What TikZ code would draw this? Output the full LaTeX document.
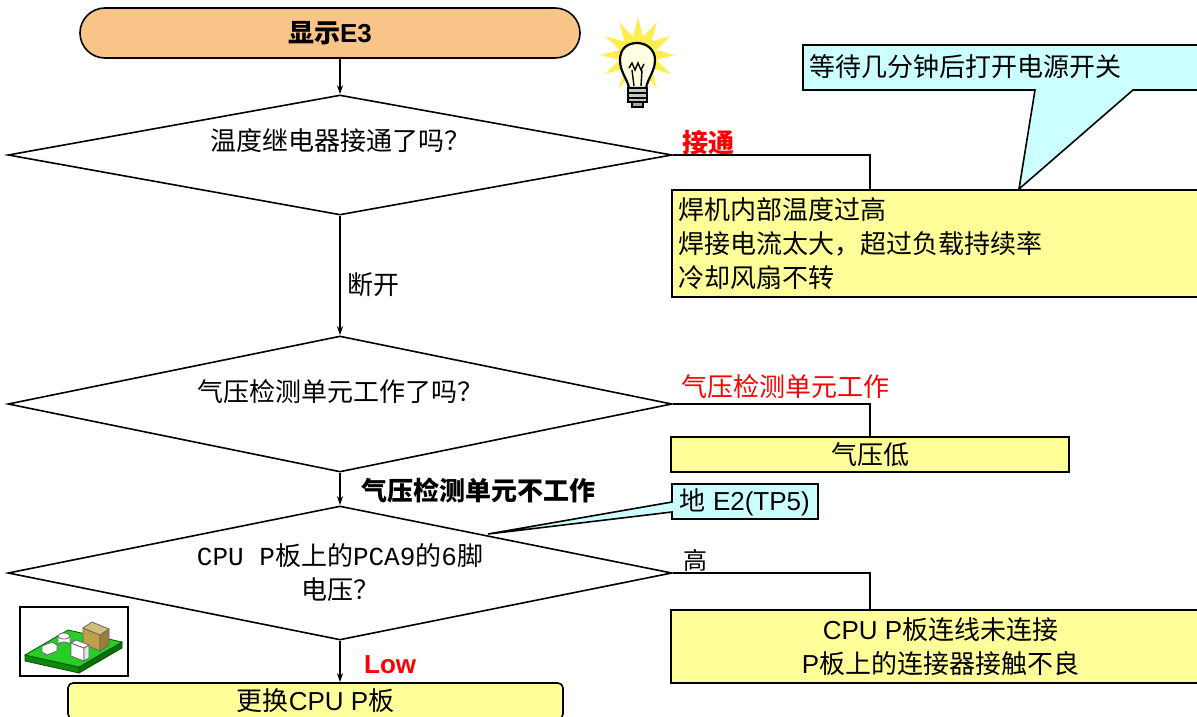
\documentclass[tikz,border=0pt]{standalone}
\usepackage{fontspec}
\setmainfont{Liberation Sans}
\newfontfamily\cjk{Noto Sans CJK SC}
\newfontfamily\mono{Liberation Mono}
\usetikzlibrary{shapes.geometric,arrows.meta,calc}
\definecolor{termfill}{RGB}{249,196,135}
\definecolor{notefill}{RGB}{255,255,153}
\definecolor{tipfill}{RGB}{204,255,255}
\definecolor{burst}{RGB}{255,238,80}
\definecolor{pcbtop}{RGB}{40,205,40}
\definecolor{pcbside}{RGB}{10,140,10}
\definecolor{partbrown}{RGB}{190,160,70}
\definecolor{glass}{RGB}{255,255,225}
\tikzset{
  terminal/.style={draw, fill=termfill, rounded corners=25pt, minimum width=500pt,
    minimum height=50pt, inner sep=0pt, font=\fontsize{26}{30}\selectfont\bfseries},
  decision/.style={draw, diamond, inner sep=0pt, align=center, minimum width=664pt},
  notebox/.style={draw, fill=notefill, inner sep=0pt},
  tipbox/.style={draw, fill=tipfill},
  flow/.style={-{Stealth[length=9pt,width=6pt]}},
  redlbl/.style={text=red, inner sep=0pt},
}
\begin{document}
\begin{tikzpicture}[x=1pt, y=-1pt, line width=1.6pt,
  font=\fontsize{26}{34}\selectfont]
\clip (0,0) rectangle (1197,717);
\fill[white] (0,0) rectangle (1197,717);

% ---- main column ----
\node[terminal] (s) at (330,33) {{\cjk 显示}E3};

\node[decision, aspect=5.533, minimum height=120pt] (d1) at (340,155)
  {\raisebox{30pt}{\cjk 温度继电器接通了吗？}};
\node[decision, aspect=4.882, minimum height=136pt] (d2) at (340,404)
  {\raisebox{28pt}{\cjk 气压检测单元工作了吗？}};
\node[decision, aspect=4.955, minimum height=134pt] (d3) at (340,573)
  {{\mono CPU P}{\cjk 板上的}{\mono PCA9}{\cjk 的}{\mono 6}{\cjk 脚}\\{\cjk 电压？}};

\node[notebox, rounded corners=5pt, minimum width=495pt, minimum height=36pt]
  (b4) at (315.5,701) {{\cjk 更换}CPU P{\cjk 板}};

\draw[flow] (d1.north |- s.south) -- (d1.north);
\draw[flow] (d1.south) -- (d2.north);
\draw[flow] (d2.south) -- (d3.north);
\draw[flow] (d3.south) -- (d3.south |- b4.north);

\node[anchor=west] (l1) at (343,285) {\cjk 断开};
\node[anchor=west] (l2) at (357,490) {\cjk\bfseries 气压检测单元不工作};
\node[anchor=west, text=red, font=\fontsize{26}{30}\selectfont\bfseries] (l3) at (360,665) {Low};

% ---- right branches ----
\node[notebox, minimum width=538pt, minimum height=107pt, text width=526pt, align=left]
  (b1) at (941,243.5)
  {\cjk 焊机内部温度过高\\焊接电流太大，超过负载持续率\\冷却风扇不转};
\node[notebox, minimum width=398pt, minimum height=35pt] (b2) at (870,454.5) {\cjk 气压低};
\node[notebox, minimum width=539pt, minimum height=73pt, align=center]
  (b3) at (940.5,646.5)
  {CPU P{\cjk 板连线未连接}\\P{\cjk 板上的连接器接触不良}};

\coordinate (j1) at (870,155);
\coordinate (j2) at (870,404);
\coordinate (j3) at (870,573);
\draw (d1.east) -- (j1) -- (j1 |- b1.north);
\draw (d2.east) -- (j2) -- (b2.north);
\draw (d3.east) -- (j3) -- (j3 |- b3.north);

\node[redlbl, anchor=base west, font=\fontsize{26}{30}\selectfont\bfseries\cjk] (r1)
  at ($(d1.east)+(9,-3)$) {接通};
\node[redlbl, anchor=base west, font=\fontsize{26}{30}\selectfont\cjk] (r2)
  at ($(d2.east)+(8,-8)$) {气压检测单元工作};
\node[inner sep=0pt, anchor=base west, font=\fontsize{24}{30}\selectfont\cjk] (r3)
  at ($(d3.east)+(10,-4)$) {高};

% ---- callouts ----
\filldraw[fill=tipfill] (803,45) -- (1205,45) -- (1205,90) -- (1133,90) -- (1019,189)
  -- (1035,90) -- (803,90) -- cycle;
\node[anchor=west, inner sep=0pt] (c1) at (809,67) {\cjk 等待几分钟后打开电源开关};

\filldraw[fill=tipfill] (672,484) -- (818,484) -- (818,519) -- (672,519) -- (672,512)
  -- (488,534) -- (672,502) -- cycle;
\node[anchor=west, inner sep=0pt] (c2) at (679,502) {{\cjk 地} E2(TP5)};

% ---- light bulb ----
\fill[burst] ([shift={(638,55)}]0:37)
  \foreach \a [evaluate=\a as \r using {mod(\a,30)==0 ? 38 : 19}] in {15,30,...,345}
  { -- ([shift={(638,55)}]\a:\r) } -- cycle;
\filldraw[fill=glass, line width=2.2pt] (629,88) .. controls (627,78) and (620,72) .. (620,60)
  .. controls (620,48) and (628,43) .. (637,43) .. controls (647,43) and (655,50) .. (655,60)
  .. controls (655,71) and (648,78) .. (646,88) -- cycle;
\draw[line width=1.4pt] (629,68) -- (632,63) -- (635,70) -- (638,63) -- (641,70) -- (644,64);
\draw[line width=1.4pt] (632,70) -- (634,86) (642,70) -- (641,86);
\filldraw[fill=gray!45, line width=1.2pt] (628,88) rectangle (647,102);
\draw[line width=1.2pt] (628,93) -- (647,93) (628,98) -- (647,98);
\filldraw[fill=gray!70, line width=1.2pt] (632,102) rectangle (643,107);

% ---- circuit board picture ----
\filldraw[fill=white, line width=2pt] (20,607) rectangle (128,676);
\filldraw[fill=pcbside, draw=pcbside!60!black, line width=0.8pt]
  (25,655) -- (79,667) -- (79,673) -- (25,661) -- cycle;
\filldraw[fill=pcbside!80!black, draw=pcbside!60!black, line width=0.8pt]
  (79,667) -- (122,642) -- (122,648) -- (79,673) -- cycle;
\filldraw[fill=pcbtop, draw=pcbside!60!black, line width=0.8pt]
  (25,655) -- (68,630) -- (122,642) -- (79,667) -- cycle;
% brown part
\filldraw[fill=partbrown, draw=black!60, line width=0.8pt]
  (83,628) -- (100,635) -- (100,651) -- (83,644) -- cycle;
\filldraw[fill=partbrown!80!black, draw=black!60, line width=0.8pt]
  (100,635) -- (109,629) -- (109,645) -- (100,651) -- cycle;
\filldraw[fill=partbrown!70!white, draw=black!60, line width=0.8pt]
  (83,628) -- (92,622) -- (109,629) -- (100,635) -- cycle;
% white block
\filldraw[fill=white, draw=black!60, line width=0.8pt]
  (71,643) -- (84,648) -- (84,661) -- (71,656) -- cycle;
\filldraw[fill=gray!20, draw=black!60, line width=0.8pt]
  (84,648) -- (89,645) -- (89,658) -- (84,661) -- cycle;
\filldraw[fill=white, draw=black!60, line width=0.8pt]
  (71,643) -- (76,640) -- (89,645) -- (84,648) -- cycle;
% cylinder
\filldraw[fill=white, draw=black!60, line width=0.8pt]
  (58,636) -- (58,645) arc[start angle=180, end angle=360, x radius=6, y radius=3]
  -- (70,636) -- cycle;
\filldraw[fill=white, draw=black!60, line width=0.8pt] (64,636) ellipse[x radius=6, y radius=3];
% small white part
\filldraw[fill=white, draw=black!60, line width=0.8pt]
  (42,646) -- (52,642) -- (57,645) -- (57,651) -- (47,655) -- (42,652) -- cycle;
\end{tikzpicture}
\end{document}
